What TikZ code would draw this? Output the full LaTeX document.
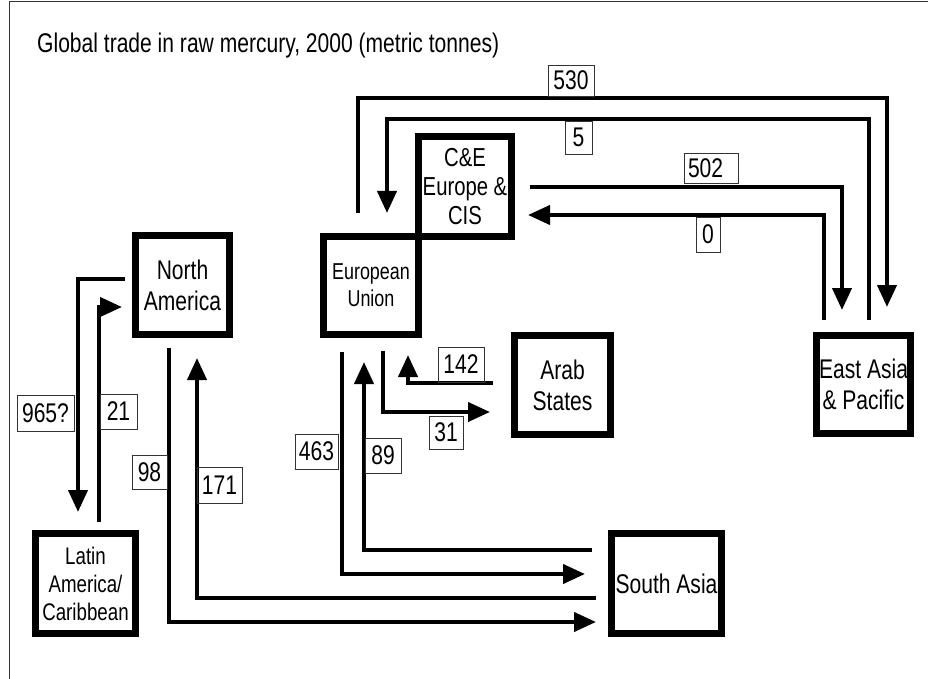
\documentclass[tikz,border=0pt]{standalone}
\usepackage{fontspec}
\setmainfont{Liberation Sans}[FakeStretch=0.78]
\usetikzlibrary{arrows.meta}
\begin{document}
\begin{tikzpicture}[x=1pt,y=-1pt,
  regbox/.style={draw, line width=7pt, inner sep=0pt},
  lbl/.style={draw=black!80, line width=0.8pt, inner sep=0pt, font=\fontsize{27}{30}\selectfont},
  flow/.style={line width=4pt, -{Triangle[length=22pt,width=19pt]}},
  big/.style={font=\fontsize{27}{31}\selectfont, align=center, inner sep=0pt},
  mid/.style={font=\fontsize{26}{29}\selectfont, align=center, inner sep=0pt},
  small/.style={font=\fontsize{23}{27}\selectfont, align=center, inner sep=0pt},
  la/.style={font=\fontsize{24}{28}\selectfont, align=center, inner sep=0pt},
]
\useasboundingbox (0,0) rectangle (934,679);
\draw[line width=1pt, black!80] (9,679) -- (9,1.5) -- (928,1.5);

\node[anchor=base west, font=\fontsize{27}{30}\selectfont, inner sep=0pt] (title) at (37,53)
  {Global trade in raw mercury, 2000 (metric tonnes)};

% regions
\node[regbox, minimum width=94pt, minimum height=99pt, label={[big]center:North\\America}] (na) at (182.5,285) {};
\node[regbox, minimum width=95pt, minimum height=98pt, label={[small]center:European\\Union}] (eu) at (371,285.5) {};
\node[regbox, minimum width=93pt, minimum height=100pt, label={[mid]center:C\&E\\Europe \&\\CIS}] (cee) at (465,186.5) {};
\node[regbox, minimum width=96pt, minimum height=99pt, label={[big]center:Arab\\States}] (arab) at (562.5,385) {};
\node[regbox, minimum width=94pt, minimum height=98pt, label={[big]center:East Asia\\\& Pacific}] (ea) at (863.5,384.5) {};
\node[regbox, minimum width=100pt, minimum height=100pt, label={[la]center:Latin\\America/\\Caribbean}] (lac) at (85.5,583.5) {};
\node[regbox, minimum width=110pt, minimum height=100pt, label={[big]center:South Asia}] (sa) at (666.5,583.5) {};

% connector ends
\coordinate (s530) at (358,213);  \coordinate (e530) at (887,307);
\coordinate (s5) at (869,320);    \coordinate (e5) at (387,213);
\coordinate (s502) at (530,187);  \coordinate (e502) at (842,310);
\coordinate (s0) at (824,320);    \coordinate (e0) at (528,215);
\coordinate (s965) at (125,279);  \coordinate (e965) at (78,512);
\coordinate (s21) at (99,522);    \coordinate (e21) at (122,307);
\coordinate (s98) at (169,348);   \coordinate (e98) at (596,622);
\coordinate (s171) at (596,598);  \coordinate (e171) at (197,358);
\coordinate (s463) at (342,352);  \coordinate (e463) at (585,574);
\coordinate (s89) at (592,550);   \coordinate (e89) at (364,362);
\coordinate (s142) at (493,383);  \coordinate (e142) at (408,355);
\coordinate (s31) at (383,351);   \coordinate (e31) at (490,412);

\draw[flow] (s530) -- ++(0,-115) -| (e530);
\draw[flow] (s5) -- ++(0,-201) -| (e5);
\draw[flow] (s502) -| (e502);
\draw[flow] (s0) |- (e0);
\draw[flow] (s965) -| (e965);
\draw[flow] (s21) |- (e21);
\draw[flow] (s98) |- (e98);
\draw[flow] (s171) -| (e171);
\draw[flow] (s463) |- (e463);
\draw[flow] (s89) -| (e89);
\draw[flow] (s142) -| (e142);
\draw[flow] (s31) |- (e31);

% quantity labels
\node[lbl, minimum width=46pt, minimum height=31pt] (l530) at (571,80.5) {530};
\node[lbl, minimum width=27pt, minimum height=33pt] (l5) at (578.5,137.5) {5};
\node[lbl, minimum width=54pt, minimum height=30pt, text width=46pt, align=left, inner xsep=4pt] (l502) at (711,168) {502};
\node[lbl, minimum width=24pt, minimum height=35pt] (l0) at (708,234.5) {0};
\node[lbl, minimum width=57pt, minimum height=36pt] (l965) at (45.5,413) {965?};
\node[lbl, minimum width=37pt, minimum height=35pt] (l21) at (118.5,411.5) {21};
\node[lbl, minimum width=35pt, minimum height=34pt] (l98) at (149.5,472) {98};
\node[lbl, minimum width=45pt, minimum height=36pt] (l171) at (219.5,485) {171};
\node[lbl, minimum width=43pt, minimum height=35pt] (l463) at (316.5,451.5) {463};
\node[lbl, minimum width=36pt, minimum height=35pt] (l89) at (383,455.5) {89};
\node[lbl, minimum width=46pt, minimum height=35pt] (l142) at (461,364.5) {142};
\node[lbl, minimum width=34pt, minimum height=33pt] (l31) at (446,432.5) {31};
\end{tikzpicture}
\end{document}
